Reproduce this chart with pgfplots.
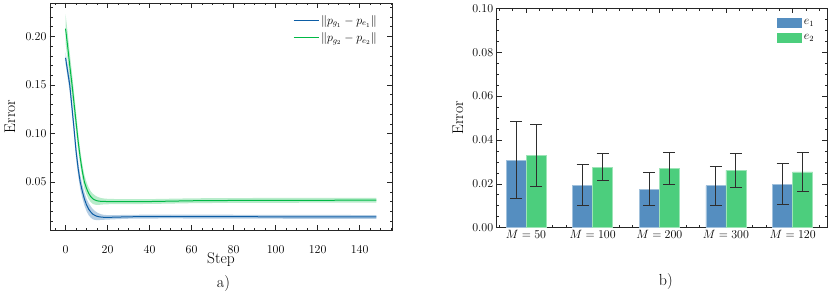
\documentclass[border=0pt]{standalone}
\usepackage{pgfplots}
\usepackage{pgfplotstable}
\pgfplotsset{compat=1.18}
\definecolor{cblue}{HTML}{0C5DA5}
\definecolor{cgreen}{HTML}{00B945}
\definecolor{bblue}{HTML}{558EC0}
\definecolor{bgreen}{HTML}{4CCE7D}
\definecolor{errc}{HTML}{2E2E2E}

\pgfplotstableread{
s m
0 0.1780
1 0.1640
2 0.1500
3 0.1280
4 0.1060
5 0.0820
6 0.0640
7 0.0500
8 0.0405
9 0.0325
10 0.0265
11 0.0222
12 0.0192
13 0.0170
14 0.0157
15 0.0148
16 0.0143
17 0.0140
18 0.0138
20 0.0137
25 0.0140
30 0.0143
40 0.0145
50 0.0146
60 0.0145
80 0.0144
100 0.0143
120 0.0142
148 0.0141
}\blu

% band of the blue curve: upper edge forward, lower edge backward
\pgfplotstableread{
s y
0 0.1840
1 0.1705
2 0.1570
3 0.1352
4 0.1134
5 0.0895
6 0.0714
7 0.0572
8 0.0475
9 0.0393
10 0.0330
11 0.0284
12 0.0250
13 0.0222
14 0.0203
15 0.0188
16 0.0177
17 0.0169
18 0.0164
20 0.0160
25 0.0161
30 0.0163
40 0.0165
50 0.0166
60 0.0165
80 0.0164
100 0.0163
120 0.0162
148 0.0161
148 0.0121
120 0.0122
100 0.0123
80 0.0124
60 0.0125
50 0.0126
40 0.0125
30 0.0123
25 0.0119
20 0.0114
18 0.0112
17 0.0111
16 0.0109
15 0.0108
14 0.0111
13 0.0118
12 0.0134
11 0.0160
10 0.0200
9 0.0257
8 0.0335
7 0.0428
6 0.0566
5 0.0745
4 0.0986
3 0.1208
2 0.1430
1 0.1575
0 0.1720
}\bluband

\pgfplotstableread{
s m
0 0.2080
1 0.1900
2 0.1700
3 0.1520
4 0.1320
5 0.1120
6 0.0920
7 0.0750
8 0.0610
9 0.0500
10 0.0435
11 0.0385
12 0.0350
13 0.0328
14 0.0316
15 0.0308
16 0.0304
17 0.0302
18 0.0301
20 0.0300
25 0.0299
30 0.0299
40 0.0300
50 0.0304
60 0.0308
70 0.0310
80 0.0311
100 0.0312
120 0.0313
148 0.0314
}\grn

\pgfplotstableread{
s y
0 0.2230
1 0.2040
2 0.1830
3 0.1640
4 0.1430
5 0.1220
6 0.1010
7 0.0830
8 0.0685
9 0.0570
10 0.0500
11 0.0445
12 0.0406
13 0.0380
14 0.0364
15 0.0351
16 0.0342
17 0.0336
18 0.0332
20 0.0328
25 0.0325
30 0.0324
40 0.0325
50 0.0329
60 0.0333
70 0.0335
80 0.0336
100 0.0337
120 0.0338
148 0.0339
148 0.0289
120 0.0288
100 0.0287
80 0.0286
70 0.0285
60 0.0283
50 0.0279
40 0.0275
30 0.0274
25 0.0273
20 0.0272
18 0.0270
17 0.0268
16 0.0266
15 0.0265
14 0.0268
13 0.0276
12 0.0294
11 0.0325
10 0.0370
9 0.0430
8 0.0535
7 0.0670
6 0.0830
5 0.1020
4 0.1210
3 0.1400
2 0.1570
1 0.1760
0 0.1930
}\grnband

\pgfplotstableread{
x m e
0 0.0307 0.0176
1 0.0194 0.0093
2 0.0175 0.0076
3 0.0192 0.0089
4 0.0198 0.0094
}\barA

\pgfplotstableread{
x m e
0 0.0329 0.0143
1 0.0275 0.0061
2 0.0270 0.0071
3 0.0261 0.0078
4 0.0254 0.0089
}\barB

\pgfplotsset{
  sci/.style={
    scale only axis,
    axis line style={line width=0.9pt, black!85},
    tick align=inside,
    tick pos=both,
    major tick length=5pt,
    minor tick length=2.5pt,
    every tick/.append style={black!85, line width=0.6pt},
    tick label style={font=\fontsize{12.5}{13}\selectfont},
    yticklabel style={/pgf/number format/fixed, /pgf/number format/fixed zerofill, /pgf/number format/precision=2},
  },
}

\begin{document}
\begin{tikzpicture}
\path[use as bounding box] (0pt,0pt) rectangle (830pt,303pt);

\begin{axis}[sci,
  at={(50pt,73pt)}, anchor=south west,
  width=342pt, height=227pt,
  xmin=-7.4, xmax=155.4, ymin=0.0007, ymax=0.2344,
  xtick={0,20,40,60,80,100,120,140},
  xticklabel style={yshift=-12pt},
  minor xtick={-5,0,...,155},
  ytick={0.05,0.10,0.15,0.20},
  minor ytick={0.01,0.02,...,0.23},
  xlabel={Step}, ylabel={Error},
  every axis x label/.style={at={(axis description cs:0.5,0)}, anchor=center, yshift=-30pt, font=\fontsize{15.5}{17}\selectfont},
  every axis y label/.style={at={(axis description cs:0,0.5)}, rotate=90, anchor=center, yshift=40pt, font=\fontsize{15.5}{17}\selectfont},
  legend style={at={(axis description cs:1,1)}, anchor=north east, xshift=-10pt, yshift=-8pt,
    draw=none, fill=none, font=\fontsize{11.5}{12}\selectfont, row sep=3pt},
  legend cell align=left,
]
\addplot[fill=cblue, fill opacity=0.3, draw=none, forget plot] table[x=s, y=y] {\bluband} -- cycle;
\addplot[fill=cgreen, fill opacity=0.28, draw=none, forget plot] table[x=s, y=y] {\grnband} -- cycle;
\addplot[cblue, line width=1pt, legend image code/.code={\draw[cblue, line width=1pt] (0pt,0pt) -- (25pt,0pt);}] table[x=s, y=m] {\blu};
\addlegendentry{$\|p_{g_1}-p_{e_1}\|$}
\addplot[cgreen, line width=1pt, legend image code/.code={\draw[cgreen, line width=1pt] (0pt,0pt) -- (25pt,0pt);}] table[x=s, y=m] {\grn};
\addlegendentry{$\|p_{g_2}-p_{e_2}\|$}
\end{axis}

\begin{axis}[sci,
  at={(496.7pt,75.3pt)}, anchor=south west,
  width=330.6pt, height=219.4pt,
  xmin=-0.44, xmax=4.52, ymin=0, ymax=0.10,
  xtick={0,1,2,3,4},
  xticklabels={$M=50$,$M=100$,$M=200$,$M=300$,$M=120$},
  xticklabel style={yshift=1pt},
  minor xtick={-0.4,-0.2,...,4.5},
  ytick={0,0.02,0.04,0.06,0.08,0.10},
  minor ytick={0,0.005,...,0.1},
  ylabel={Error},
  every axis y label/.style={at={(axis description cs:0,0.5)}, rotate=90, anchor=center, yshift=38.7pt, font=\fontsize{15.5}{17}\selectfont},
  legend style={at={(axis description cs:1,1)}, anchor=north east, xshift=-8pt, yshift=-7pt,
    draw=none, fill=none, font=\fontsize{11.5}{12}\selectfont, row sep=4pt},
  legend cell align=left,
]
\addplot[ybar, bar width=0.3, bar shift=0pt, fill=bblue, draw=bblue!55!white, line width=0.6pt,
  legend image code/.code={\fill[bblue] (0pt,-4.5pt) rectangle (24pt,4.5pt);},
  error bars/.cd, y dir=both, y explicit,
  error bar style={line width=1pt, errc},
  error mark options={rotate=90, line width=1pt, mark size=6pt, errc}]
  table[x expr=\thisrow{x}-0.15, y=m, y error=e] {\barA};
\addlegendentry{$e_1$}
\addplot[ybar, bar width=0.3, bar shift=0pt, fill=bgreen, draw=bgreen!55!white, line width=0.6pt,
  legend image code/.code={\fill[bgreen] (0pt,-4.5pt) rectangle (24pt,4.5pt);},
  error bars/.cd, y dir=both, y explicit,
  error bar style={line width=1pt, errc},
  error mark options={rotate=90, line width=1pt, mark size=6pt, errc}]
  table[x expr=\thisrow{x}+0.15, y=m, y error=e] {\barB};
\addlegendentry{$e_2$}
\end{axis}

\node[font=\fontsize{16}{17}\selectfont] at (223.5pt,19.8pt) {a)};
\node[font=\fontsize{16}{17}\selectfont] at (665.8pt,21.5pt) {b)};
\end{tikzpicture}
\end{document}
